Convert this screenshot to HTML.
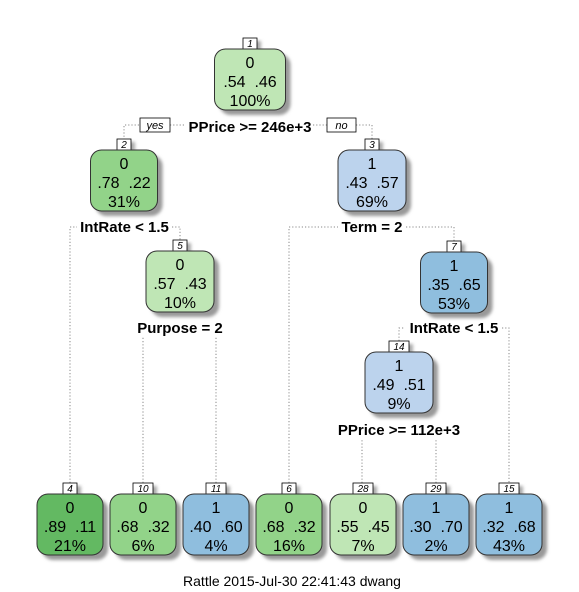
<!DOCTYPE html>
<html><head><meta charset="utf-8"><style>
html,body{margin:0;padding:0;background:#fff;}
svg{display:block;font-family:"Liberation Sans",sans-serif;}
.n{font-size:16px;text-anchor:middle;fill:#000;white-space:pre;}
.l{font-size:15px;font-weight:bold;text-anchor:middle;}
.num{font-size:10px;font-style:italic;text-anchor:middle;}
.d{stroke:#8a8a8a;stroke-width:1;stroke-dasharray:1.2 2;fill:none;}
.nb{fill:#fff;stroke:#000;stroke-width:0.8;}
.ns{fill:#aaa;}
.bs{fill:#999;}
.bx{stroke:#333;stroke-width:1;}
</style></head><body>
<svg width="579" height="592" viewBox="0 0 579 592">
<defs><filter id="sh" x="-20%" y="-20%" width="150%" height="150%"><feGaussianBlur stdDeviation="1.5"/></filter></defs>

<path class="d" d="M124,140 V125 H140 M170,125 H184 M313,125 H327 M356,125 H372 V140"/>
<path class="d" d="M70,483 V227 H77 M172,227 H180 V240"/>
<path class="d" d="M289,483 V227 H338 M406,227 H454 V241"/>
<path class="d" d="M143,483 V336 M216,483 V336"/>
<path class="d" d="M399,341 V328 H405 M502,328 H509 V483"/>
<path class="d" d="M362,483 V439 M436,483 V439"/>

<g transform="translate(250,49)">
<rect class="ns" x="-3" y="-8" width="14" height="11" filter="url(#sh)"/><rect class="nb" x="-7" y="-11" width="14" height="11"/><text class="num" x="0" y="-2">1</text>
<rect class="bs" x="-30.5" y="5" width="71" height="61" rx="11" filter="url(#sh)"/><rect class="bx" x="-35.5" y="0" width="71" height="61" rx="11" fill="#bfe6b5"/>
<text class="n" x="0" y="19">0</text><text class="n" x="0" y="38">.54  .46</text><text class="n" x="0" y="57">100%</text></g>
<g transform="translate(124,150)">
<rect class="ns" x="-3" y="-8" width="14" height="11" filter="url(#sh)"/><rect class="nb" x="-7" y="-11" width="14" height="11"/><text class="num" x="0" y="-2">2</text>
<rect class="bs" x="-28.5" y="5" width="67" height="61" rx="11" filter="url(#sh)"/><rect class="bx" x="-33.5" y="0" width="67" height="61" rx="11" fill="#92d389"/>
<text class="n" x="0" y="19">0</text><text class="n" x="0" y="38">.78  .22</text><text class="n" x="0" y="57">31%</text></g>
<g transform="translate(372,150)">
<rect class="ns" x="-3" y="-8" width="14" height="11" filter="url(#sh)"/><rect class="nb" x="-7" y="-11" width="14" height="11"/><text class="num" x="0" y="-2">3</text>
<rect class="bs" x="-29" y="5" width="68" height="61" rx="11" filter="url(#sh)"/><rect class="bx" x="-34" y="0" width="68" height="61" rx="11" fill="#bcd3ed"/>
<text class="n" x="0" y="19">1</text><text class="n" x="0" y="38">.43  .57</text><text class="n" x="0" y="57">69%</text></g>
<g transform="translate(180,251)">
<rect class="ns" x="-3" y="-8" width="14" height="11" filter="url(#sh)"/><rect class="nb" x="-7" y="-11" width="14" height="11"/><text class="num" x="0" y="-2">5</text>
<rect class="bs" x="-29" y="5" width="68" height="61" rx="11" filter="url(#sh)"/><rect class="bx" x="-34" y="0" width="68" height="61" rx="11" fill="#bfe6b5"/>
<text class="n" x="0" y="19">0</text><text class="n" x="0" y="38">.57  .43</text><text class="n" x="0" y="57">10%</text></g>
<g transform="translate(454,252)">
<rect class="ns" x="-3" y="-8" width="14" height="11" filter="url(#sh)"/><rect class="nb" x="-7" y="-11" width="14" height="11"/><text class="num" x="0" y="-2">7</text>
<rect class="bs" x="-28.5" y="5" width="67" height="61" rx="11" filter="url(#sh)"/><rect class="bx" x="-33.5" y="0" width="67" height="61" rx="11" fill="#8fbede"/>
<text class="n" x="0" y="19">1</text><text class="n" x="0" y="38">.35  .65</text><text class="n" x="0" y="57">53%</text></g>
<g transform="translate(399,352)">
<rect class="ns" x="-6" y="-8" width="20" height="11" filter="url(#sh)"/><rect class="nb" x="-10" y="-11" width="20" height="11"/><text class="num" x="0" y="-2">14</text>
<rect class="bs" x="-29" y="5" width="68" height="61" rx="11" filter="url(#sh)"/><rect class="bx" x="-34" y="0" width="68" height="61" rx="11" fill="#bcd3ed"/>
<text class="n" x="0" y="19">1</text><text class="n" x="0" y="38">.49  .51</text><text class="n" x="0" y="57">9%</text></g>

<g transform="translate(70,494)">
<rect class="ns" x="-3" y="-8" width="14" height="11" filter="url(#sh)"/><rect class="nb" x="-7" y="-11" width="14" height="11"/><text class="num" x="0" y="-2">4</text>
<rect class="bs" x="-28" y="5" width="66" height="61" rx="11" filter="url(#sh)"/><rect class="bx" x="-33" y="0" width="66" height="61" rx="11" fill="#63b962"/>
<text class="n" x="0" y="19">0</text><text class="n" x="0" y="38">.89  .11</text><text class="n" x="0" y="57">21%</text></g>
<g transform="translate(143,494)">
<rect class="ns" x="-6" y="-8" width="20" height="11" filter="url(#sh)"/><rect class="nb" x="-10" y="-11" width="20" height="11"/><text class="num" x="0" y="-2">10</text>
<rect class="bs" x="-28" y="5" width="66" height="61" rx="11" filter="url(#sh)"/><rect class="bx" x="-33" y="0" width="66" height="61" rx="11" fill="#92d389"/>
<text class="n" x="0" y="19">0</text><text class="n" x="0" y="38">.68  .32</text><text class="n" x="0" y="57">6%</text></g>
<g transform="translate(216,494)">
<rect class="ns" x="-6" y="-8" width="20" height="11" filter="url(#sh)"/><rect class="nb" x="-10" y="-11" width="20" height="11"/><text class="num" x="0" y="-2">11</text>
<rect class="bs" x="-28" y="5" width="66" height="61" rx="11" filter="url(#sh)"/><rect class="bx" x="-33" y="0" width="66" height="61" rx="11" fill="#8fbede"/>
<text class="n" x="0" y="19">1</text><text class="n" x="0" y="38">.40  .60</text><text class="n" x="0" y="57">4%</text></g>
<g transform="translate(289,494)">
<rect class="ns" x="-3" y="-8" width="14" height="11" filter="url(#sh)"/><rect class="nb" x="-7" y="-11" width="14" height="11"/><text class="num" x="0" y="-2">6</text>
<rect class="bs" x="-28" y="5" width="66" height="61" rx="11" filter="url(#sh)"/><rect class="bx" x="-33" y="0" width="66" height="61" rx="11" fill="#92d389"/>
<text class="n" x="0" y="19">0</text><text class="n" x="0" y="38">.68  .32</text><text class="n" x="0" y="57">16%</text></g>
<g transform="translate(363,494)">
<rect class="ns" x="-6" y="-8" width="20" height="11" filter="url(#sh)"/><rect class="nb" x="-10" y="-11" width="20" height="11"/><text class="num" x="0" y="-2">28</text>
<rect class="bs" x="-28" y="5" width="66" height="61" rx="11" filter="url(#sh)"/><rect class="bx" x="-33" y="0" width="66" height="61" rx="11" fill="#bfe6b5"/>
<text class="n" x="0" y="19">0</text><text class="n" x="0" y="38">.55  .45</text><text class="n" x="0" y="57">7%</text></g>
<g transform="translate(436,494)">
<rect class="ns" x="-6" y="-8" width="20" height="11" filter="url(#sh)"/><rect class="nb" x="-10" y="-11" width="20" height="11"/><text class="num" x="0" y="-2">29</text>
<rect class="bs" x="-28" y="5" width="66" height="61" rx="11" filter="url(#sh)"/><rect class="bx" x="-33" y="0" width="66" height="61" rx="11" fill="#8fbede"/>
<text class="n" x="0" y="19">1</text><text class="n" x="0" y="38">.30  .70</text><text class="n" x="0" y="57">2%</text></g>
<g transform="translate(509,494)">
<rect class="ns" x="-6" y="-8" width="20" height="11" filter="url(#sh)"/><rect class="nb" x="-10" y="-11" width="20" height="11"/><text class="num" x="0" y="-2">15</text>
<rect class="bs" x="-28" y="5" width="66" height="61" rx="11" filter="url(#sh)"/><rect class="bx" x="-33" y="0" width="66" height="61" rx="11" fill="#8fbede"/>
<text class="n" x="0" y="19">1</text><text class="n" x="0" y="38">.32  .68</text><text class="n" x="0" y="57">43%</text></g>

<text class="l" x="250" y="132">PPrice &gt;= 246e+3</text>
<text class="l" x="124.5" y="232">IntRate &lt; 1.5</text>
<text class="l" x="372" y="232">Term = 2</text>
<text class="l" x="180" y="333">Purpose = 2</text>
<text class="l" x="454" y="333">IntRate &lt; 1.5</text>
<text class="l" x="399" y="435">PPrice &gt;= 112e+3</text>
<rect x="140" y="118" width="30" height="14" fill="#fff" stroke="#000" stroke-width="0.8"/>
<text class="num" x="155" y="129" style="font-size:11px">yes</text>
<rect x="327" y="118" width="29" height="14" fill="#fff" stroke="#000" stroke-width="0.8"/>
<text class="num" x="341.5" y="129" style="font-size:11px">no</text>

<text x="292" y="586" style="font-size:14px;text-anchor:middle">Rattle 2015-Jul-30 22:41:43 dwang</text>
</svg>
</body></html>
